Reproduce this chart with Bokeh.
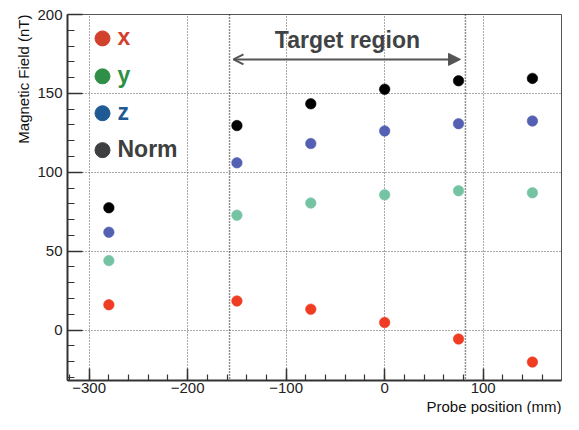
from bokeh.plotting import figure
from bokeh.models import (Range1d, SingleIntervalTicker, Span, Arrow, OpenHead,
                          NormalHead, Label, Title)
from bokeh.embed import file_html
from bokeh.resources import INLINE

# ---------------- data ----------------
positions = [-280, -150, -75, 0, 75, 150]          # probe position (mm)
field_x = [16.0, 18.4, 13.2, 4.8, -5.7, -20.3]      # nT
field_y = [44.0, 72.8, 80.5, 85.7, 88.3, 87.0]
field_z = [62.0, 106.0, 118.2, 126.2, 130.8, 132.5]
field_norm = [77.5, 129.6, 143.4, 152.6, 158.0, 159.5]

series_names = ["x", "y", "z", "Norm"]
series_values = [field_x, field_y, field_z, field_norm]
marker_colors = ["#f03c22", "#74c3a3", "#5461b2", "#000000"]
legend_colors = ["#d2412c", "#2f8f46", "#1f5a95", "#3d3f40"]

target_region = [-157.5, 82.0]
target_label = "Target region"
x_title = "Probe position (mm)"
y_title = "Magnetic Field (nT)"
y_limits = [-32, 200]

FONT = "Liberation Sans"

# ---------------- layout ----------------
W, H = 563, 414
ML, MR, MT, MB = 67, 2, 14, 33
FW = W - ML - MR
FH = H - MT - MB
X0 = -322.0
XPX = 0.985                      # px per mm
X1 = X0 + FW / XPX
YPX = FH / (y_limits[1] - y_limits[0])

p = figure(width=W, height=H, x_range=Range1d(X0, X1),
           y_range=Range1d(*y_limits), output_backend="svg",
           toolbar_location=None, min_border_left=ML, min_border_right=MR,
           min_border_top=MT, min_border_bottom=MB)
p.background_fill_color = "white"
p.border_fill_color = "white"
p.outline_line_color = "#555555"
p.outline_line_width = 1

# axes
p.xaxis.ticker = SingleIntervalTicker(interval=100, num_minor_ticks=5)
p.yaxis.ticker = SingleIntervalTicker(interval=50, num_minor_ticks=5)
for ax in (p.xaxis, p.yaxis):
    ax.axis_line_color = "#333333"
    ax.axis_line_width = 2
    ax.major_tick_out = 0
    ax.minor_tick_out = 0
    ax.major_tick_line_color = "#333333"
    ax.minor_tick_line_color = "#333333"
    ax.major_tick_line_width = 1.5
    ax.minor_tick_line_width = 1.2
    ax.major_label_text_font = FONT
    ax.major_label_text_font_size = "15px"
    ax.major_label_text_color = "#222222"
    ax.axis_label = None
p.xaxis.major_tick_in = 12
p.xaxis.minor_tick_in = 6
p.yaxis.major_tick_in = 15
p.yaxis.minor_tick_in = 7
p.xaxis.major_label_standoff = 2
p.yaxis.major_label_standoff = 5

for g in (p.xgrid, p.ygrid):
    g.grid_line_color = "#555555"
    g.grid_line_dash = "1 2"
    g.grid_line_width = 1

# axis titles (as side titles, aligned to the end of each axis)
p.add_layout(Title(text=x_title, align="right", text_font=FONT,
                   text_font_size="15px", text_font_style="normal",
                   text_color="#111111", standoff=0), "below")
p.add_layout(Title(text=y_title, align="right", text_font=FONT,
                   text_font_size="15px", text_font_style="normal",
                   text_color="#111111", standoff=5), "left")

# target region boundaries and arrow
for loc in target_region:
    p.add_layout(Span(location=loc, dimension="height", line_color="#222222",
                      line_dash="1 2", line_width=1.5))

arrow_y = y_limits[1] - 45 / YPX
p.add_layout(Arrow(x_start=target_region[0] + 4, y_start=arrow_y,
                   x_end=target_region[1] - 5, y_end=arrow_y,
                   line_color="#555555", line_width=2,
                   start=OpenHead(size=10, line_color="#555555", line_width=2),
                   end=NormalHead(size=12, fill_color="#555555",
                                  line_color="#555555")))
p.add_layout(Label(x=(target_region[0] + target_region[1]) / 2, y=y_limits[1] - 26 / YPX,
                   text=target_label, text_align="center", text_baseline="middle",
                   text_font=FONT, text_font_size="23px", text_font_style="bold",
                   text_color="#3f4345"))

# data points
for vals, col in zip(series_values, marker_colors):
    p.scatter(positions, vals, size=10.5, fill_color=col, line_color=col,
              line_alpha=0.6)

# legend (manual, coloured labels)
row_tops = [24, 62, 99, 136]
cx = 35
lx = [X0 + cx / XPX] * 4
ly = [y_limits[1] - t / YPX for t in row_tops]
p.scatter(lx, ly, size=15, fill_color=legend_colors, line_color=legend_colors)
for name, col, t in zip(series_names, legend_colors, row_tops):
    p.add_layout(Label(x=cx + 15, y=FH - t + 1, x_units="screen", y_units="screen",
                       text=name, text_align="left", text_baseline="middle",
                       text_font=FONT, text_font_size="23px",
                       text_font_style="bold", text_color=col))

open("out.html", "w").write(file_html(p, INLINE))
